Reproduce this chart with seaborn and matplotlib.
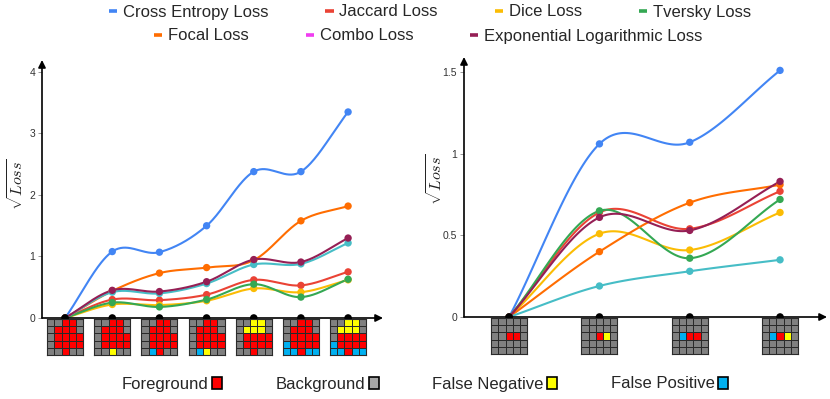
import numpy as np
import pandas as pd
import matplotlib
matplotlib.use("Agg")
import matplotlib.pyplot as plt
from matplotlib.colors import ListedColormap
from matplotlib.lines import Line2D
from matplotlib.patches import Patch
import seaborn as sns

sns.set_theme(style="white")
plt.rcParams["font.family"] = ["Liberation Sans", "DejaVu Sans"]
plt.rcParams["mathtext.fontset"] = "cm"

losses = ["Cross Entropy Loss", "Jaccard Loss", "Dice Loss", "Tversky Loss",
          "Focal Loss", "Combo Loss", "Exponential Logarithmic Loss"]
line_colors = ["#4285F4", "#EA4335", "#FBBC04", "#34A853",
               "#FF6D01", "#46BDC6", "#951F55"]
legend_colors = ["#4285F4", "#EA4335", "#FBBC04", "#34A853",
                 "#FF6D01", "#F03CF0", "#951F55"]

# left panel: 7 shapes
left_ce = [0, 1.08, 1.07, 1.50, 2.38, 2.38, 3.35]
left_jaccard = [0, 0.30, 0.29, 0.38, 0.62, 0.53, 0.75]
left_dice = [0, 0.22, 0.21, 0.28, 0.48, 0.42, 0.62]
left_tversky = [0, 0.25, 0.18, 0.30, 0.55, 0.34, 0.63]
left_focal = [0, 0.44, 0.73, 0.82, 0.94, 1.58, 1.82]
left_combo = [0, 0.42, 0.40, 0.56, 0.87, 0.88, 1.22]
left_explog = [0, 0.45, 0.43, 0.59, 0.95, 0.91, 1.30]

# right panel: 4 small shapes
right_ce = [0, 1.06, 1.07, 1.51]
right_jaccard = [0, 0.64, 0.54, 0.77]
right_dice = [0, 0.51, 0.41, 0.64]
right_tversky = [0, 0.65, 0.36, 0.72]
right_focal = [0, 0.40, 0.70, 0.81]
right_combo = [0, 0.19, 0.28, 0.35]
right_explog = [0, 0.61, 0.53, 0.83]

left_yticks = [0, 1, 2, 3, 4]
left_yticklabels = ["0", "1", "2", "3", "4"]
right_yticks = [0, 0.5, 1, 1.5]
right_yticklabels = ["0", "0.5", "1", "1.5"]

# g = background, r = foreground, y = false negative, b = false positive
left_grids = [
    ["ggrrg", "grrrg", "grrrr", "grrrr", "ggrgg"],
    ["ggrrg", "grrrg", "grrrr", "grrrr", "ggygg"],
    ["ggrrg", "grrrg", "grrrr", "grrrr", "gbrgg"],
    ["ggrrg", "grrrg", "grrrr", "grrrr", "gbygg"],
    ["ggyyg", "gyyyg", "grrrr", "grrrr", "ggrgg"],
    ["ggrrg", "grrrg", "grrrr", "brrrr", "bbrbb"],
    ["ggyyg", "gyyyg", "grrrr", "brrrr", "bbrbb"],
]
right_grids = [
    ["ggggg", "ggggg", "ggrrg", "ggggg", "ggggg"],
    ["ggggg", "ggggg", "ggryg", "ggggg", "ggggg"],
    ["ggggg", "ggggg", "gbrrg", "ggggg", "ggggg"],
    ["ggggg", "ggggg", "gbryg", "ggggg", "ggggg"],
]

key_labels = ["Foreground", "Background", "False Negative", "False Positive"]
key_colors = ["#FF0000", "#A6A6A6", "#FFFF00", "#00B0F0"]
cell_codes = {"g": 0, "r": 1, "y": 2, "b": 3}
cell_cmap = ListedColormap(["#808080", "#FF0000", "#FFFF00", "#00B0F0"])

W, H = 830, 399
fig = plt.figure(figsize=(W / 100, H / 100), dpi=100)


def px_axes(x0, x1, ybot, ytop):
    return fig.add_axes([x0 / W, 1 - ybot / H, (x1 - x0) / W, (ybot - ytop) / H])


def smooth(y, n=40):
    # Catmull-Rom style curve through the read points
    y = np.asarray(y, float)
    m = np.gradient(y)
    xs, ys = [], []
    for i in range(len(y) - 1):
        t = np.linspace(0, 1, n)
        h00 = 2 * t**3 - 3 * t**2 + 1
        h10 = t**3 - 2 * t**2 + t
        h01 = -2 * t**3 + 3 * t**2
        h11 = t**3 - t**2
        xs.append(i + t)
        ys.append(h00 * y[i] + h10 * m[i] + h01 * y[i + 1] + h11 * m[i + 1])
    return np.concatenate(xs), np.concatenate(ys)


def draw_panel(ax, series, grids, xlim, ylim, yticks, yticklabels, label_xy):
    curve_rows, point_rows = [], []
    for name, vals in zip(losses, series):
        xs, ys = smooth(vals)
        curve_rows.append(pd.DataFrame({"x": xs, "y": ys, "loss": name}))
        point_rows.append(pd.DataFrame({"x": np.arange(len(vals)), "y": vals, "loss": name}))
    curves = pd.concat(curve_rows, ignore_index=True)
    points = pd.concat(point_rows, ignore_index=True)
    pal = dict(zip(losses, line_colors))

    sns.lineplot(data=curves, x="x", y="y", hue="loss", hue_order=losses, palette=pal,
                 sort=False, estimator=None, legend=False, lw=1.5, ax=ax)
    sns.scatterplot(data=points, x="x", y="y", hue="loss", hue_order=losses, palette=pal,
                    s=28, edgecolor="none", legend=False, zorder=3, ax=ax)
    n = len(grids)
    sns.scatterplot(x=np.arange(n), y=np.zeros(n), color="black", s=30,
                    edgecolor="none", clip_on=False, zorder=6, ax=ax)

    ax.set_xlim(*xlim)
    ax.set_ylim(*ylim)
    for s in ax.spines.values():
        s.set_visible(False)
    arrow = dict(arrowstyle="-|>", color="black", lw=1.2, mutation_scale=11,
                 shrinkA=0, shrinkB=0)
    ax.annotate("", xy=(1, 0), xytext=(0, 0), xycoords="axes fraction", arrowprops=arrow)
    ax.annotate("", xy=(0, 1), xytext=(0, 0), xycoords="axes fraction", arrowprops=arrow)
    ax.set_xticks([])
    ax.set_yticks(yticks)
    ax.set_yticklabels(yticklabels)
    ax.tick_params(axis="y", left=True, length=3, width=0.6, color="#888888",
                   labelsize=7.5, labelcolor="#333333", pad=2)
    ax.set_xlabel("")
    ax.set_ylabel(r"$\sqrt{Loss}$", fontsize=11.5, color="#222222")
    ax.yaxis.set_label_coords(*label_xy)

    # shape thumbnails under each x position
    inv = fig.transFigure.inverted()
    size = 36
    for i, g in enumerate(grids):
        cx, cy = ax.transData.transform((i, 0))
        (fx, fy) = inv.transform((cx - size / 2, cy - size - 1))
        (fx2, fy2) = inv.transform((cx + size / 2, cy - 1))
        iax = fig.add_axes([fx, fy, fx2 - fx, fy2 - fy])
        arr = np.array([[cell_codes[c] for c in row] for row in g])
        sns.heatmap(arr, cmap=cell_cmap, vmin=-0.5, vmax=3.5, cbar=False,
                    linewidths=0.7, linecolor="#2a2a2a", xticklabels=False,
                    yticklabels=False, ax=iax)
        for s in iax.spines.values():
            s.set_visible(True)
            s.set_color("#2a2a2a")
            s.set_linewidth(0.8)


left_series = [left_ce, left_jaccard, left_dice, left_tversky, left_focal, left_combo, left_explog]
right_series = [right_ce, right_jaccard, right_dice, right_tversky, right_focal, right_combo, right_explog]

ax1 = px_axes(42, 383, 318, 60)
draw_panel(ax1, left_series, left_grids, (-0.49, 6.74), (0, 4.195),
           left_yticks, left_yticklabels, (-0.045, 0.52))

ax2 = px_axes(464, 827, 317, 57)
draw_panel(ax2, right_series, right_grids, (-0.50, 3.52), (0, 1.592),
           right_yticks, right_yticklabels, (-0.05, 0.53))

# top legend, two centred rows
handles = [Line2D([], [], color=c, lw=2.6, solid_capstyle="butt") for c in legend_colors]
leg_kw = dict(loc="center", frameon=False, fontsize=12, handlelength=0.5,
              handletextpad=0.35, columnspacing=3.4, borderaxespad=0, borderpad=0)
fig.legend(handles[:4], losses[:4], bbox_to_anchor=(0.518, 1 - 12 / H), ncol=4, **leg_kw)
fig.legend(handles[4:], losses[4:], bbox_to_anchor=(0.516, 1 - 36 / H), ncol=3, **leg_kw)

# bottom key
key_handles = [Patch(facecolor=c, edgecolor="black", lw=1.2) for c in key_colors]
fig.legend(key_handles, key_labels, loc="center", bbox_to_anchor=(0.512, 1 - 384 / H),
           ncol=4, frameon=False, fontsize=12, markerfirst=False, handlelength=0.62,
           handleheight=0.75, handletextpad=0.2, columnspacing=3.2,
           borderaxespad=0, borderpad=0)

fig.savefig("out.png", dpi=100)
